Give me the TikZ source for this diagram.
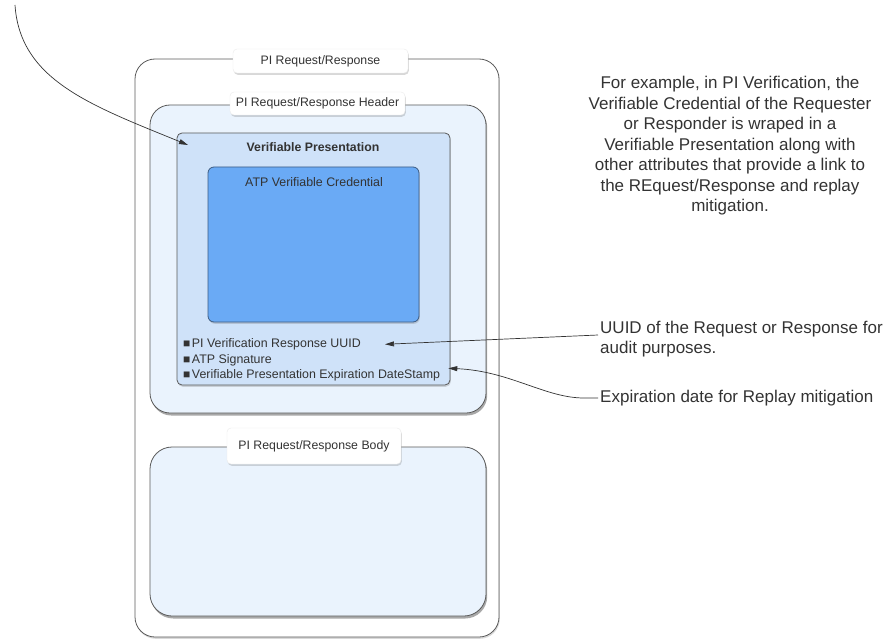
\documentclass[tikz,border=0pt]{standalone}
\usepackage{fontspec}
\setmainfont{Liberation Sans}
\usetikzlibrary{shadows,arrows.meta}
\definecolor{txt}{HTML}{333333}
\definecolor{edge}{HTML}{5A5A5A}
\definecolor{paleblue}{HTML}{EAF3FD}
\definecolor{lightblue}{HTML}{CFE2F9}
\definecolor{midblue}{HTML}{6AAAF5}
\definecolor{vcedge}{HTML}{3E5C82}
\begin{document}
\begin{tikzpicture}[x=1pt,y=-1pt,
  box/.style={draw=edge, line width=0.8pt, anchor=north west, inner sep=0pt, outer sep=0pt},
  shade/.style={drop shadow={shadow xshift=1.2pt, shadow yshift=-2.5pt, opacity=0.45, fill=black!75}},
  softshade/.style={drop shadow={shadow xshift=0.8pt, shadow yshift=-1.8pt, opacity=0.25, fill=black!60}},
  tag/.style={fill=white, draw=black!8, rounded corners=4pt, inner sep=0pt, text=txt,
    font=\fontsize{12.3}{14}\selectfont, softshade},
  small/.style={text=txt, inner sep=0pt, font=\fontsize{12.4}{15.5}\selectfont},
  big/.style={text=txt, inner sep=0pt, font=\fontsize{17}{20.5}\selectfont},
  arr/.style={draw=txt, line width=0.7pt, -{Triangle[length=9pt,width=5pt]}}
]
\useasboundingbox (0,0) rectangle (893,639);

% outer frame
\node[box, fill=white, rounded corners=20pt, minimum width=364pt, minimum height=578pt, softshade] (outer) at (135,59) {};
\node[tag, minimum width=175pt, minimum height=24pt] (outertag) at (320.5,61) {PI Request/Response};

% header
\node[box, fill=paleblue, rounded corners=20pt, minimum width=336pt, minimum height=308pt, shade] (header) at (150,105) {};
\node[tag, minimum width=175pt, minimum height=23pt] (headertag) at (317.5,103.5) {PI Request/Response Header};

% verifiable presentation
\node[box, fill=lightblue, rounded corners=5pt, minimum width=273pt, minimum height=252pt, softshade] (vp) at (177,133) {};
\node[small, font=\fontsize{12.3}{14}\selectfont\bfseries] (vptitle) at (313,147) {Verifiable Presentation};

% verifiable credential
\node[box, draw=vcedge, fill=midblue, rounded corners=6pt, minimum width=211pt, minimum height=155pt, softshade] (vc) at (208,167) {};
\node[small] (vctitle) at (314,182) {ATP Verifiable Credential};

% bullet items
\node[small, anchor=base west] (b1) at (183,347.5) {{\fontsize{12}{12}\selectfont ■}\hspace{1.5pt}PI Verification Response UUID};
\node[small, anchor=base west] (b2) at (183,363) {{\fontsize{12}{12}\selectfont ■}\hspace{1.5pt}ATP Signature};
\node[small, anchor=base west] (b3) at (183,378.5) {{\fontsize{12}{12}\selectfont ■}\hspace{1.5pt}Verifiable Presentation Expiration DateStamp};

% body
\node[box, fill=paleblue, rounded corners=22pt, minimum width=336pt, minimum height=169pt, shade] (body) at (150,447) {};
\node[tag, minimum width=174pt, minimum height=36pt] (bodytag) at (314,446) {PI Request/Response Body};

% right side texts
\node[big, align=center] (example) at (730,146) {For example, in PI Verification, the\\Verifiable Credential of the Requester\\or Responder is wraped in a\\Verifiable Presentation along with\\other attributes that provide a link to\\the REquest/Response and replay\\mitigation.};
\node[big, align=left, anchor=west] (uuid) at (600,339) {UUID of the Request or Response for\\audit purposes.};
\node[big, anchor=west] (exp) at (600,398) {Expiration date for Replay mitigation};

% connectors
\coordinate (topstart) at (15,5);
\draw[arr] (topstart) .. controls (20,80) and (90,105) .. ([xshift=11pt,yshift=-12pt]vp.north west);
\draw[arr] ([xshift=-2pt,yshift=4pt]uuid.west) -- ([xshift=24pt]b1.east);
\draw[arr] ([xshift=-2pt]exp.west) -- ++(-14,0) .. controls (545,398) and (510,371) .. ([xshift=8pt,yshift=7pt]b3.east);
\end{tikzpicture}
\end{document}
